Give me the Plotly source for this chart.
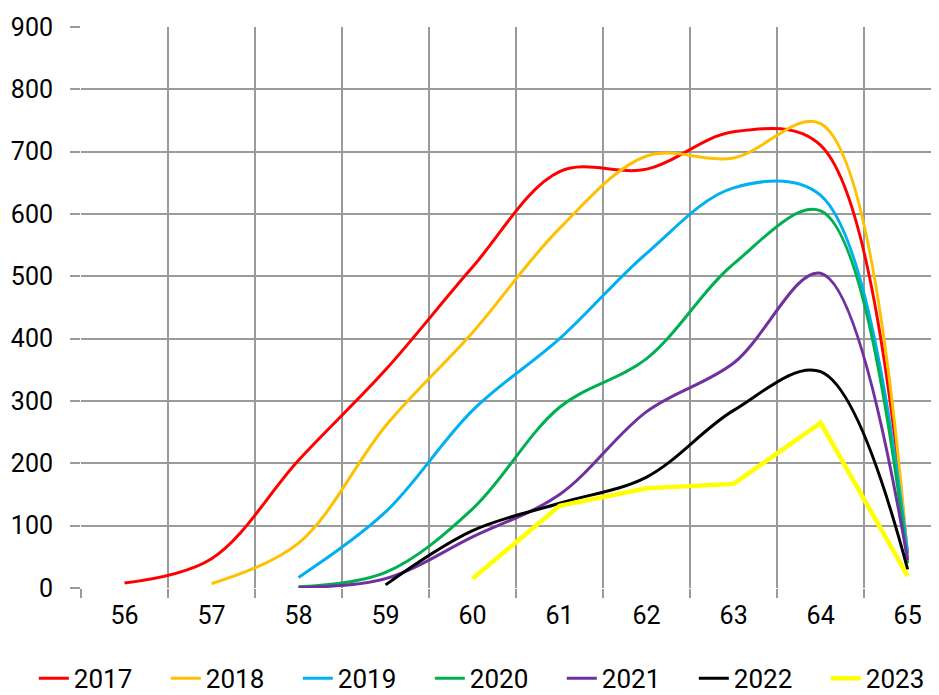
import plotly.graph_objects as go

categories = ["56", "57", "58", "59", "60", "61", "62", "63", "64", "65"]

y2017 = [8, 47, 205, 350, 515, 668, 672, 732, 710, 50]
y2018 = [None, 7, 72, 260, 410, 577, 693, 690, 745, 50]
y2019 = [None, None, 17, 122, 285, 400, 537, 642, 630, 55]
y2020 = [None, None, 2, 25, 127, 290, 368, 520, 605, 40]
y2021 = [None, None, 1, 15, 82, 150, 283, 361, 505, 45]
y2022 = [None, None, None, 5, 92, 136, 178, 285, 347, 30]
y2023 = [None, None, None, None, 15, 132, 160, 167, 265, 19]

series = [
    ("2017", y2017, "#FF0000", 3, "spline"),
    ("2018", y2018, "#FFC000", 3, "spline"),
    ("2019", y2019, "#00B0F0", 3, "spline"),
    ("2020", y2020, "#00B050", 3, "spline"),
    ("2021", y2021, "#7030A0", 3, "spline"),
    ("2022", y2022, "#000000", 3, "spline"),
    ("2023", y2023, "#FFFF00", 4.5, "linear"),
]

fig = go.Figure()
for name, ys, color, w, shape in series:
    xs = [c for c, v in zip(categories, ys) if v is not None]
    vs = [v for v in ys if v is not None]
    fig.add_trace(go.Scatter(
        x=xs, y=vs, name=name, mode="lines",
        line=dict(color=color, width=w, shape=shape, smoothing=1.0),
    ))

grid = "#9A9A9A"
# page body has an 8px margin, so the figure is sized/offset to compensate
fig.update_layout(
    width=931, height=687,
    margin=dict(l=73, r=0, t=19, b=107, autoexpand=False),
    paper_bgcolor="white", plot_bgcolor="white",
    font=dict(family="Roboto", color="#000000"),
    showlegend=True,
    legend=dict(
        orientation="h", xref="paper", x=-0.055, xanchor="left",
        yref="paper", y=-0.161, yanchor="middle",
        font=dict(size=26), itemwidth=30, entrywidth=87,
        tracegroupgap=0, borderwidth=0,
    ),
    xaxis=dict(
        type="category", categoryorder="array", categoryarray=categories,
        range=[-0.5, 9.36], tickson="boundaries", automargin=False,
        showgrid=True, gridcolor=grid, gridwidth=1.5,
        ticks="outside", ticklen=9, tickcolor=grid, tickwidth=1.5,
        tickfont=dict(size=25), ticklabelstandoff=10,
        showline=False, zeroline=False,
    ),
    yaxis=dict(
        range=[0, 900], dtick=100, tick0=0, automargin=False,
        showgrid=True, gridcolor=grid, gridwidth=1.5,
        ticks="outside", ticklen=10, tickcolor=grid, tickwidth=1.5,
        tickfont=dict(size=25), ticklabelstandoff=12,
        showline=False, zeroline=False,
    ),
)

fig.write_html("out.html")
